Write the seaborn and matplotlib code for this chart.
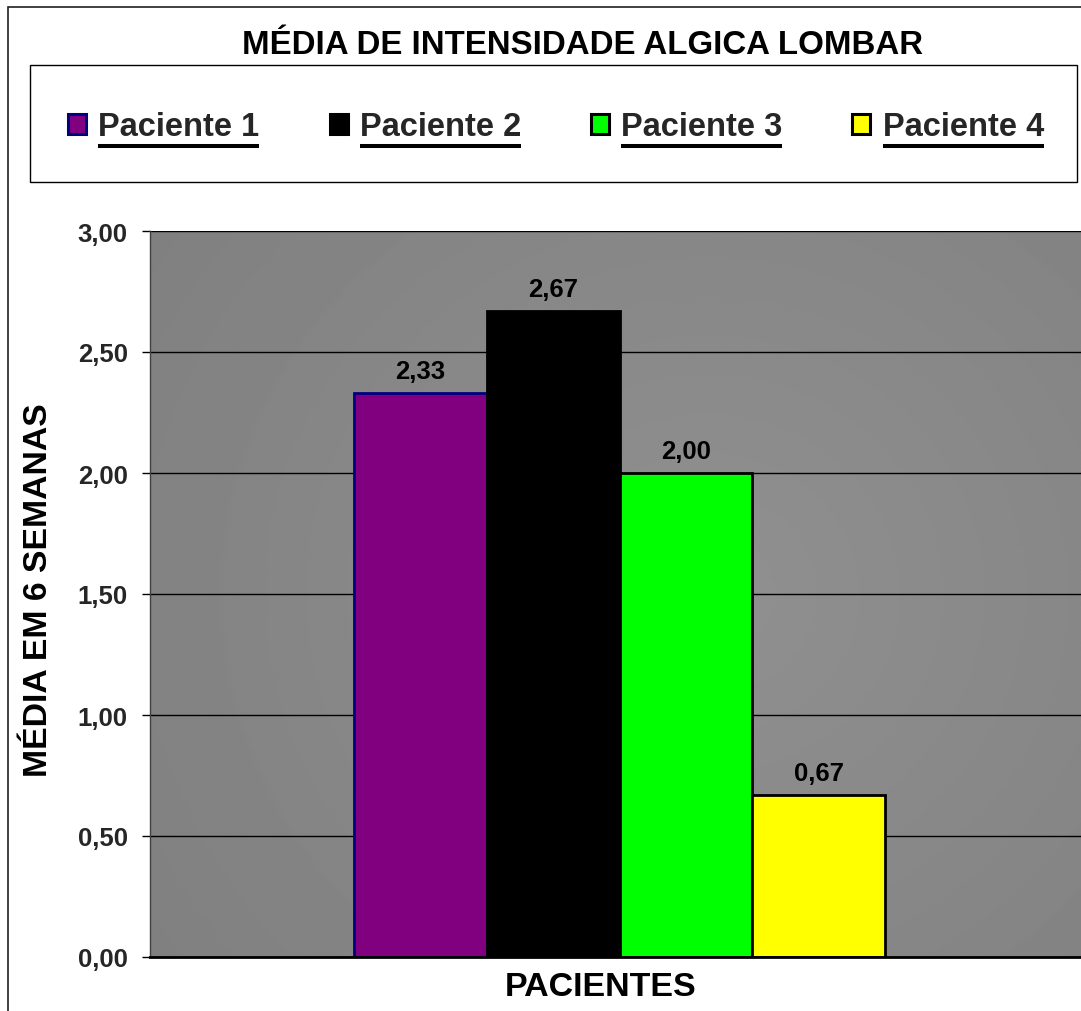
import numpy as np
import pandas as pd
import seaborn as sns
import matplotlib
matplotlib.use("Agg")
import matplotlib.pyplot as plt
from matplotlib.ticker import FuncFormatter, MultipleLocator
from matplotlib.patches import Rectangle
from matplotlib.lines import Line2D

# Data
pacientes = ["Paciente 1", "Paciente 2", "Paciente 3", "Paciente 4"]
medias = [2.33, 2.67, 2.00, 0.67]
cores = ["#800080", "#000000", "#00FF00", "#FFFF00"]
bordas = ["#000080", "#000000", "#000000", "#000000"]

titulo = "MÉDIA DE INTENSIDADE ALGICA LOMBAR"
rotulo_y = "MÉDIA EM 6 SEMANAS"
rotulo_x = "PACIENTES"

df = pd.DataFrame({"grupo": [""] * len(pacientes),
                   "paciente": pacientes,
                   "media": medias})

sns.set_theme(style="white")
plt.rcParams["font.family"] = ["Liberation Sans", "DejaVu Sans"]
plt.rcParams["font.weight"] = "bold"

W, H = 1081, 1012
fig = plt.figure(figsize=(W / 100, H / 100), dpi=100)
fig.patch.set_facecolor("white")

# plot area in pixel coordinates
L, R, T, B = 150, 1081, 232, 958
ax = fig.add_axes([L / W, 1 - B / H, (R - L) / W, (B - T) / H])

def fmt(v):
    return f"{v:.2f}".replace(".", ",")

sns.barplot(data=df, x="grupo", y="media", hue="paciente", palette=cores,
            width=0.57, ax=ax, legend=False, saturation=1)

for patch, ec in zip(ax.patches, bordas):
    patch.set_edgecolor(ec)
    patch.set_linewidth(2.0)
    patch.set_zorder(2)

for cont in ax.containers:
    ax.bar_label(cont, labels=[fmt(v) for v in cont.datavalues], padding=7,
                 fontsize=18.5, fontweight="bold", color="black")

# radial gray gradient behind the bars
yy, xx = np.mgrid[0:1:300j, 0:1:300j]
rr = np.sqrt(((xx - 0.6) / 0.75) ** 2 + ((yy - 0.5) / 0.9) ** 2)
grad = np.clip(0.565 - 0.065 * rr, 0.5, 0.57)
ax.imshow(grad, extent=(0, 1, 0, 1), transform=ax.transAxes, cmap="gray",
          vmin=0, vmax=1, aspect="auto", zorder=0, interpolation="bilinear")

dx = 4 / (R - L)
ax.set_xlim(-0.5 - dx, 0.5 - dx)
ax.set_ylim(0, 3)

ax.yaxis.set_major_locator(MultipleLocator(0.5))
ax.yaxis.set_major_formatter(FuncFormatter(lambda v, p: fmt(v)))
ax.set_axisbelow(True)
ax.yaxis.grid(True, color="black", linewidth=1.0, zorder=0.5)
ax.get_ygridlines()[-1].set_visible(False)
ax.xaxis.grid(False)
ax.set_xticks([])

ax.tick_params(axis="y", left=True, length=6, width=1, color="black",
               pad=10, labelsize=18.5)
for lab in ax.get_yticklabels():
    lab.set_fontweight("bold")

for s in ["top", "right"]:
    ax.spines[s].set_visible(False)
ax.spines["left"].set_color("#404040")
ax.spines["left"].set_linewidth(1.0)
ax.spines["bottom"].set_color("black")
ax.spines["bottom"].set_linewidth(2.0)

ax.set_ylabel(rotulo_y, fontsize=24.3, fontweight="bold", color="black")
ax.yaxis.set_label_coords((54 - L) / (R - L), 0.5 + (595 - 590) / (B - T))
ax.set_xlabel(rotulo_x, fontsize=24.5, fontweight="bold", color="black")
ax.xaxis.set_label_coords((601 - L) / (R - L), -(988 - B) / (B - T))
ax.xaxis.label.set_va("center")

# title
fig.text(582 / W, 1 - 46 / H, titulo, ha="center", va="center",
         fontsize=23.8, fontweight="bold", color="black")

# outer chart border
fig.patches.append(Rectangle((8 / W, -0.1), 1.2, 1 - 8 / H + 0.1,
                             transform=fig.transFigure, fill=False,
                             edgecolor="#202020", linewidth=1.2))

# legend box
fig.patches.append(Rectangle((30 / W, 1 - 183 / H), (1077 - 30) / W,
                             (183 - 66) / H, transform=fig.transFigure,
                             fill=False, edgecolor="black", linewidth=1.0))

handles = [Rectangle((0, 0), 1, 1, facecolor=c, edgecolor=e, linewidth=2.2)
           for c, e in zip(cores, bordas)]
leg = fig.legend(handles, pacientes, loc="center",
                 bbox_to_anchor=(556 / W, 1 - 128 / H), ncol=4,
                 frameon=False, prop={"size": 23.5, "weight": "bold"},
                 handlelength=0.55, handleheight=0.55, handletextpad=0.37,
                 columnspacing=2.15, borderpad=0)

# underline legend labels
fig.canvas.draw()
for txt in leg.get_texts():
    bb = txt.get_window_extent()
    y = bb.y0 - 3
    fig.lines.append(Line2D([bb.x0, bb.x1], [y, y], transform=None,
                            color="black", linewidth=2.9,
                            solid_capstyle="butt"))

fig.savefig("out.png", dpi=100, facecolor="white")
